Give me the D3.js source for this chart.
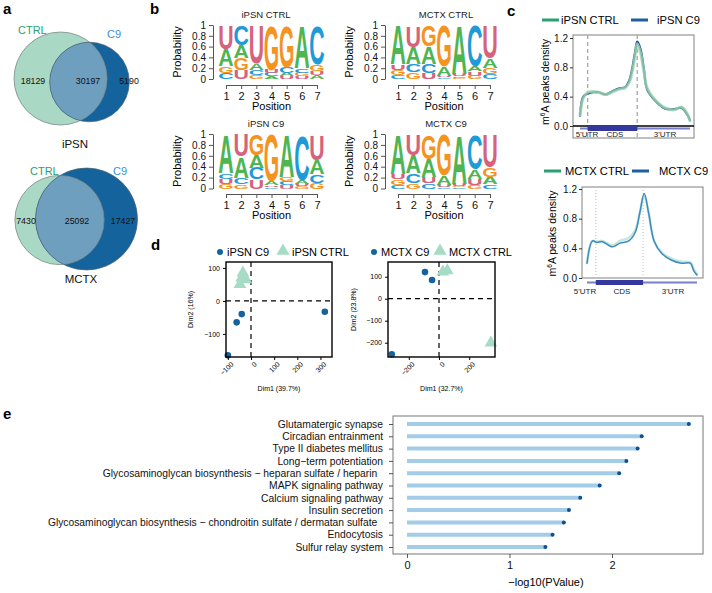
<!DOCTYPE html>
<html>
<head>
<meta charset="utf-8">
<script src="https://cdn.jsdelivr.net/npm/d3@7"></script>
<style>
body { margin: 0; background: #fff; }
svg { font-family: "Liberation Sans", Arial, sans-serif; display: block; }
</style>
</head>
<body>
<svg id="fig" width="712" height="593"></svg>
<script>
// ---- data ----
// venn counts: [CTRL only, shared, C9 only]
const vennIpsn = [18129, 30197, 5190];
const vennMctx = [7430, 25092, 17427];

// sequence logos, probabilities per position in order A, C, G, U
const nts = ["A", "C", "G", "U"];
const logoIpsnCtrl = [
  [0.31, 0.11, 0.13, 0.45],
  [0.24, 0.37, 0.23, 0.16],
  [0.12, 0.09, 0.08, 0.71],
  [0.05, 0.06, 0.83, 0.06],
  [0.07, 0.11, 0.77, 0.05],
  [0.80, 0.08, 0.07, 0.05],
  [0.07, 0.72, 0.13, 0.08]
];
const logoIpsnC9 = [
  [0.72, 0.10, 0.09, 0.09],
  [0.39, 0.12, 0.08, 0.41],
  [0.24, 0.21, 0.38, 0.17],
  [0.07, 0.03, 0.87, 0.03],
  [0.78, 0.08, 0.08, 0.06],
  [0.08, 0.84, 0.04, 0.04],
  [0.27, 0.15, 0.11, 0.47]
];
const logoMctxCtrl = [
  [0.73, 0.08, 0.09, 0.10],
  [0.33, 0.14, 0.13, 0.40],
  [0.33, 0.16, 0.39, 0.12],
  [0.18, 0.03, 0.76, 0.03],
  [0.91, 0.03, 0.02, 0.04],
  [0.10, 0.76, 0.06, 0.08],
  [0.18, 0.09, 0.12, 0.61]
];
const logoMctxC9 = [
  [0.73, 0.07, 0.10, 0.10],
  [0.33, 0.18, 0.10, 0.39],
  [0.33, 0.10, 0.45, 0.12],
  [0.17, 0.03, 0.76, 0.04],
  [0.91, 0.02, 0.03, 0.04],
  [0.18, 0.64, 0.06, 0.12],
  [0.14, 0.08, 0.18, 0.60]
];
const positions = [1, 2, 3, 4, 5, 6, 7];
const probTicks = [0, 0.2, 0.4, 0.6, 0.8, 1];

// metagene m6A density, [position along transcript (0-100), density]
const metaIpsnCtrl = [[0,0.15],[3,0.38],[7,0.46],[12,0.47],[17,0.46],[23,0.43],[29,0.46],[35,0.50],[41,0.52],[45,0.60],[50,0.95],[52,1.12],[55,1.00],[58,0.75],[61,0.52],[68,0.36],[77,0.25],[86,0.22],[92,0.26],[97,0.18],[100,0.07]];
const metaIpsnC9 = [[0,0.14],[3,0.40],[7,0.44],[12,0.46],[17,0.46],[23,0.43],[29,0.47],[35,0.51],[41,0.53],[45,0.63],[50,1.00],[52,1.15],[55,1.05],[58,0.78],[61,0.50],[68,0.35],[77,0.24],[86,0.23],[92,0.25],[97,0.17],[100,0.08]];
const metaMctxCtrl = [[0,0.20],[5,0.50],[9,0.49],[14,0.50],[23,0.44],[30,0.50],[38,0.54],[44,0.65],[48,0.88],[52,1.12],[56,0.88],[61,0.50],[68,0.34],[77,0.26],[86,0.22],[94,0.21],[97,0.12],[100,0.05]];
const metaMctxC9 = [[0,0.20],[5,0.50],[9,0.48],[14,0.49],[23,0.42],[30,0.47],[38,0.50],[44,0.62],[48,0.88],[52,1.14],[56,0.88],[61,0.50],[68,0.33],[77,0.24],[86,0.20],[94,0.20],[97,0.10],[100,0.04]];
const regionsIpsn = [0, 7, 52, 100];
const regionsMctx = [0, 8, 51, 100];
const regionNames = ["5'UTR", "CDS", "3'UTR"];
const densityTicks = [0, 0.4, 0.8, 1.2];

// PCA coordinates [Dim1, Dim2]
const pcaIpsnC9 = [[-100,-165],[-62,-65],[-40,-40],[319,-33]];
const pcaIpsnCtrl = [[-48,50],[-35,85],[-22,65],[-40,70]];
const pcaMctxC9 = [[-313,-253],[-93,121],[-46,85]];
const pcaMctxCtrl = [[25,122],[55,128],[344,-201]];

// KEGG enrichment
const pathways = [
  "Glutamatergic synapse",
  "Circadian entrainment",
  "Type II diabetes mellitus",
  "Long\u2212term potentiation",
  "Glycosaminoglycan biosynthesis \u2212 heparan sulfate / heparin  ",
  "MAPK signaling pathway",
  "Calcium signaling pathway",
  "Insulin secretion",
  "Glycosaminoglycan biosynthesis \u2212 chondroitin sulfate / dermatan sulfate  ",
  "Endocytosis",
  "Sulfur relay system"
];
const pathValues = [2.75, 2.29, 2.25, 2.14, 2.07, 1.88, 1.69, 1.58, 1.53, 1.42, 1.35];
const pathTicks = [0, 1, 2];

// ---- style ----
const ntColors = { A: "#4fb553", C: "#1e9ad8", G: "#f5931f", U: "#d6637b" };
const ctrlGreen = "#2c9f72", c9Blue = "#3a8fd3";

const svg = d3.select("#fig");
svg.append("rect").attr("width", 712).attr("height", 593).attr("fill", "#fff");

function panelLabel(t, x, y) {
  svg.append("text").attr("x", x).attr("y", y)
    .attr("font-size", 15).attr("font-weight", "bold").text(t);
}

// ---- a: venn diagrams ----
function drawVenn(counts, lay) {
  const totCtrl = counts[0] + counts[1];
  const totC9 = counts[1] + counts[2];
  const r = d3.scaleSqrt().domain([0, Math.max(totCtrl, totC9)]).range([0, lay.rMax]);
  const g = svg.append("g");
  const clipId = "clip-" + lay.name;
  g.append("clipPath").attr("id", clipId)
    .append("circle").attr("cx", lay.ctrl[0]).attr("cy", lay.ctrl[1]).attr("r", r(totCtrl));

  g.append("circle").attr("cx", lay.ctrl[0]).attr("cy", lay.ctrl[1]).attr("r", r(totCtrl))
    .attr("fill", "#a9d8c5");
  g.append("circle").attr("cx", lay.c9[0]).attr("cy", lay.c9[1]).attr("r", r(totC9))
    .attr("fill", "#15639d");
  g.append("circle").attr("cx", lay.c9[0]).attr("cy", lay.c9[1]).attr("r", r(totC9))
    .attr("fill", "#6f9fbf").attr("clip-path", `url(#${clipId})`);
  g.append("circle").attr("cx", lay.ctrl[0]).attr("cy", lay.ctrl[1]).attr("r", r(totCtrl))
    .attr("fill", "none").attr("stroke", "#7d8a88").attr("stroke-width", 0.8);
  g.append("circle").attr("cx", lay.c9[0]).attr("cy", lay.c9[1]).attr("r", r(totC9))
    .attr("fill", "none").attr("stroke", "#4f6070").attr("stroke-width", 0.7);

  g.selectAll("text.num").data(counts).join("text")
    .attr("class", "num")
    .attr("x", (d, i) => lay.numX[i]).attr("y", lay.numY)
    .attr("text-anchor", "middle").attr("font-size", 8.8).attr("fill", "#111")
    .text(d => d);

  g.append("text").attr("x", lay.ctrlLab[0]).attr("y", lay.ctrlLab[1])
    .attr("font-size", 11).attr("fill", ctrlGreen).text("CTRL");
  g.append("text").attr("x", lay.c9Lab[0]).attr("y", lay.c9Lab[1])
    .attr("font-size", 11).attr("fill", c9Blue).text("C9");
  g.append("text").attr("x", lay.title[0]).attr("y", lay.title[1])
    .attr("text-anchor", "middle").attr("font-size", 11.5).attr("fill", "#111").text(lay.name);
}

drawVenn(vennIpsn, {
  name: "iPSN", rMax: 46.5, ctrl: [60.5, 78.5], c9: [89.5, 82],
  numX: [33, 88, 129], numY: 84, ctrlLab: [18, 34], c9Lab: [107, 38], title: [75, 148]
});
drawVenn(vennMctx, {
  name: "MCTX", rMax: 51, ctrl: [59.5, 220], c9: [86.5, 219],
  numX: [26, 77, 123], numY: 224, ctrlLab: [30, 175], c9Lab: [113, 175], title: [81, 283]
});

// ---- b: sequence logos ----
function drawLogo(data, title, lay) {
  const x = d3.scaleLinear().domain([1, 7]).range([lay.x1, lay.x7]);
  const y = d3.scaleLinear().domain([0, 1]).range([lay.y0, lay.y1]);
  const g = svg.append("g");
  const colW = (lay.x7 - lay.x1) / 6 * 0.94;

  data.forEach((probs, i) => {
    const stack = nts.map((n, k) => ({ n, p: probs[k] })).sort((a, b) => a.p - b.p);
    let cum = 0;
    stack.forEach(s => {
      const yb = y(cum), yt = y(cum + s.p);
      cum += s.p;
      const t = g.append("text").text(s.n)
        .attr("font-size", 100).attr("font-weight", "bold")
        .attr("fill", ntColors[s.n]);
      const w = t.node().getComputedTextLength();
      const sx = colW / w * 1.08, sy = (yb - yt) / 72;
      t.attr("transform", `translate(${x(positions[i]) - colW / 2 - colW * 0.04},${yb}) scale(${sx},${sy})`);
    });
  });

  const ya = g.append("g").attr("transform", `translate(${lay.ax},0)`)
    .call(d3.axisLeft(y).tickValues(probTicks).tickFormat(d3.format("~g"))
      .tickSize(4).tickSizeOuter(0));
  ya.selectAll("text").attr("font-size", 10).attr("fill", "#111").attr("font-family", null);
  ya.selectAll("line, path").attr("stroke", "#555");

  const xa = g.append("g").attr("transform", `translate(0,${lay.xAxisY})`)
    .call(d3.axisBottom(x).tickValues(positions).tickFormat(d3.format("d")).tickSize(4).tickSizeOuter(0));
  xa.selectAll("text").attr("font-size", 11).attr("fill", "#111").attr("font-family", null);
  xa.selectAll("line, path").attr("stroke", "#555");

  g.append("text").attr("x", (lay.x1 + lay.x7) / 2).attr("y", lay.xAxisY + 25)
    .attr("text-anchor", "middle").attr("font-size", 11).text("Position");
  g.append("text").attr("transform", `translate(${lay.ylabX},${(lay.y0 + lay.y1) / 2}) rotate(-90)`)
    .attr("text-anchor", "middle").attr("font-size", 11).text("Probability");
  g.append("text").attr("x", lay.titleX).attr("y", lay.y1 - 7)
    .attr("text-anchor", "middle").attr("font-size", 9.5).attr("fill", "#222").text(title);
}

const logoTop = { y0: 79, y1: 25, xAxisY: 85 };
const logoBot = { y0: 188.5, y1: 134, xAxisY: 194 };
const logoLeft = { x1: 226, x7: 317, ax: 213, ylabX: 181, titleX: 266 };
const logoRight = { x1: 398, x7: 490, ax: 385, ylabX: 353, titleX: 446 };
drawLogo(logoIpsnCtrl, "iPSN CTRL", Object.assign({}, logoTop, logoLeft));
drawLogo(logoMctxCtrl, "MCTX CTRL", Object.assign({}, logoTop, logoRight));
drawLogo(logoIpsnC9, "iPSN C9", Object.assign({}, logoBot, logoLeft));
drawLogo(logoMctxC9, "MCTX C9", Object.assign({}, logoBot, logoRight));

// ---- c: metagene density ----
function drawMeta(ctrl, c9, regions, names, lay) {
  const x = d3.scaleLinear().domain([0, 100]).range([lay.x0, lay.x1]);
  const y = d3.scaleLinear().domain([0, 1.2]).range([lay.yb, lay.yt]);
  const g = svg.append("g");

  g.append("rect").attr("x", lay.bl).attr("y", lay.bt)
    .attr("width", lay.br - lay.bl).attr("height", lay.bb - lay.bt)
    .attr("fill", "none").attr("stroke", "#808080").attr("stroke-width", 1);

  g.selectAll("line.div").data([regions[1], regions[2]]).join("line")
    .attr("x1", d => x(d)).attr("x2", d => x(d))
    .attr("y1", lay.bt).attr("y2", lay.divBottom)
    .attr("stroke", lay.divColor).attr("stroke-width", 1.2)
    .attr("stroke-dasharray", lay.dash);

  if (lay.zeroLine) {
    g.append("line").attr("x1", lay.bl).attr("x2", lay.br)
      .attr("y1", y(0)).attr("y2", y(0)).attr("stroke", "#000").attr("stroke-width", 1.5);
  }

  const ax = g.append("g").attr("transform", `translate(${lay.bl},0)`)
    .call(d3.axisLeft(y).tickValues(densityTicks).tickFormat(d3.format(".1f")).tickSize(3).tickSizeOuter(0).tickPadding(2));
  ax.select(".domain").remove();
  ax.selectAll("text").attr("font-size", 10).attr("fill", "#111").attr("font-family", null);
  ax.selectAll("line").attr("stroke", "#333");

  // gene model bar
  g.append("line").attr("x1", x(regions[0])).attr("x2", x(regions[3]))
    .attr("y1", lay.barY).attr("y2", lay.barY)
    .attr("stroke", "#7b7fcf").attr("stroke-width", 2);
  g.append("rect").attr("x", x(regions[1])).attr("y", lay.barY - 2.5)
    .attr("width", x(regions[2]) - x(regions[1])).attr("height", 5)
    .attr("fill", "#34379c");
  g.selectAll("text.reg").data(regionNames).join("text")
    .attr("class", "reg")
    .attr("x", (d, i) => lay.regLabX[i]).attr("y", lay.regLabY)
    .attr("text-anchor", "middle").attr("font-size", 8).attr("fill", "#222")
    .text(d => d);

  const line = d3.line().x(d => x(d[0])).y(d => y(d[1])).curve(d3.curveCatmullRom.alpha(0.5));
  lay.order.forEach(k => {
    const s = k === "ctrl" ? lay.ctrlStyle : lay.c9Style;
    g.append("path").datum(k === "ctrl" ? ctrl : c9)
      .attr("d", line).attr("fill", "none")
      .attr("stroke", s.color).attr("stroke-width", s.width)
      .attr("stroke-opacity", s.opacity).attr("stroke-linejoin", "round").attr("stroke-linecap", "round");
  });

  // legend
  const lx = lay.legX;
  g.append("line").attr("x1", lx[0]).attr("x2", lx[0] + 17).attr("y1", lay.legY).attr("y2", lay.legY)
    .attr("stroke", ctrlGreen).attr("stroke-width", 3);
  g.append("text").attr("x", lx[1]).attr("y", lay.legY + 4).attr("font-size", 11.2).text(names[0]);
  g.append("line").attr("x1", lx[2]).attr("x2", lx[2] + 17).attr("y1", lay.legY).attr("y2", lay.legY)
    .attr("stroke", "#1e5fa3").attr("stroke-width", 3);
  g.append("text").attr("x", lx[3]).attr("y", lay.legY + 4).attr("font-size", 11.2).text(names[1]);

  const yl = g.append("text").attr("transform", `translate(${lay.ylabX},${(lay.yb + lay.yt) / 2}) rotate(-90)`)
    .attr("text-anchor", "middle").attr("font-size", 10.5);
  yl.append("tspan").text("m");
  yl.append("tspan").attr("font-size", 6.5).attr("dy", -4).text("6");
  yl.append("tspan").attr("dy", 4).text("A peaks density");
}

drawMeta(metaIpsnCtrl, metaIpsnC9, regionsIpsn, ["iPSN CTRL", "iPSN C9"], {
  x0: 580, x1: 690, yb: 126, yt: 38, bl: 573, br: 694, bt: 35, bb: 138,
  zeroLine: true, divBottom: 138, divColor: "#a0a0a0", dash: "4,3",
  barY: 128.5, regLabX: [587, 615, 665], regLabY: 137,
  order: ["c9", "ctrl"],
  c9Style: { color: "#1d4c98", width: 2.2, opacity: 1 },
  ctrlStyle: { color: "#9fd8ae", width: 3, opacity: 0.8 },
  legX: [542, 561, 631, 657], legY: 20, ylabX: 549
});
drawMeta(metaMctxCtrl, metaMctxC9, regionsMctx, ["MCTX CTRL", "MCTX C9"], {
  x0: 587, x1: 697, yb: 278, yt: 189, bl: 582, br: 703, bt: 187, bb: 278,
  zeroLine: false, divBottom: 278, divColor: "#c8c8c8", dash: "1,2",
  barY: 282.5, regLabX: [585, 622, 673], regLabY: 294,
  order: ["ctrl", "c9"],
  c9Style: { color: "#3b8bc0", width: 1.5, opacity: 1 },
  ctrlStyle: { color: "#c4e8dd", width: 2.6, opacity: 1 },
  legX: [544, 565, 632, 659], legY: 171, ylabX: 556
});

// ---- d: PCA ----
const triangle = d3.symbol().type(d3.symbolTriangle);
function drawPca(c9, ctrl, names, lay) {
  const x = d3.scaleLinear().domain(lay.xd).range([lay.l, lay.r]);
  const y = d3.scaleLinear().domain(lay.yd).range([lay.b, lay.t]);
  const g = svg.append("g");

  g.append("line").attr("x1", x(0)).attr("x2", x(0)).attr("y1", lay.t).attr("y2", lay.b)
    .attr("stroke", "#000").attr("stroke-width", 1.2).attr("stroke-dasharray", "5,4");
  g.append("line").attr("x1", lay.l).attr("x2", lay.r).attr("y1", y(0)).attr("y2", y(0))
    .attr("stroke", "#000").attr("stroke-width", 1.2).attr("stroke-dasharray", "5,4");

  g.selectAll("path.tri").data(ctrl).join("path").attr("class", "tri")
    .attr("d", triangle.size(70)())
    .attr("transform", d => `translate(${x(d[0])},${y(d[1])})`)
    .attr("fill", "#a6dbc6");
  g.selectAll("circle.pt").data(c9).join("circle").attr("class", "pt")
    .attr("cx", d => x(d[0])).attr("cy", d => y(d[1])).attr("r", 3.3)
    .attr("fill", "#15639d");

  g.append("rect").attr("x", lay.l).attr("y", lay.t)
    .attr("width", lay.r - lay.l).attr("height", lay.b - lay.t)
    .attr("fill", "none").attr("stroke", "#000").attr("stroke-width", 1.4);

  const fmt = d => String(d).replace("-", "\u2212");
  const xa = g.append("g").attr("transform", `translate(0,${lay.b})`)
    .call(d3.axisBottom(x).tickValues(lay.xt).tickFormat(fmt).tickSize(3).tickSizeOuter(0));
  xa.select(".domain").remove();
  xa.selectAll("text").attr("font-size", 7).attr("font-family", null)
    .attr("text-anchor", "end").attr("dx", "-0.2em").attr("dy", "0.5em")
    .attr("transform", "rotate(-45)");
  const ya = g.append("g").attr("transform", `translate(${lay.l},0)`)
    .call(d3.axisLeft(y).tickValues(lay.yt).tickFormat(fmt).tickSize(3).tickSizeOuter(0));
  ya.select(".domain").remove();
  ya.selectAll("text").attr("font-size", 7).attr("font-family", null);

  g.append("text").attr("x", (lay.l + lay.r) / 2).attr("y", 391)
    .attr("text-anchor", "middle").attr("font-size", 7).text(lay.xlab);
  g.append("text").attr("transform", `translate(${lay.ylabX},${(lay.t + lay.b) / 2}) rotate(-90)`)
    .attr("text-anchor", "middle").attr("font-size", 7).text(lay.ylab);

  // legend
  g.append("circle").attr("cx", lay.leg[0]).attr("cy", 252).attr("r", 3).attr("fill", "#15639d");
  g.append("text").attr("x", lay.leg[0] + 7).attr("y", 256).attr("font-size", 11).text(names[0]);
  g.append("path").attr("d", triangle.size(75)())
    .attr("transform", `translate(${lay.leg[1]},251)`).attr("fill", "#a6dbc6");
  g.append("text").attr("x", lay.leg[1] + 9).attr("y", 256).attr("font-size", 11).text(names[1]);
}

drawPca(pcaIpsnC9, pcaIpsnCtrl, ["iPSN C9", "iPSN CTRL"], {
  xd: [-108, 350], yd: [-170, 118], l: 226, r: 332, t: 262, b: 357,
  xt: [-100, 0, 100, 200, 300], yt: [-100, 0, 100],
  xlab: "Dim1 (39.7%)", ylab: "Dim2 (16%)", ylabX: 193, leg: [220, 283]
});
drawPca(pcaMctxC9, pcaMctxCtrl, ["MCTX C9", "MCTX CTRL"], {
  xd: [-338, 371], yd: [-265, 167], l: 388, r: 495, t: 262, b: 357,
  xt: [-200, 0, 200], yt: [-200, -100, 0, 100],
  xlab: "Dim1 (32.7%)", ylab: "Dim2 (23.8%)", ylabX: 356, leg: [374, 440]
});

// ---- e: KEGG lollipop ----
(function () {
  const x = d3.scaleLinear().domain([0, 2]).range([407, 612]);
  const y = d3.scalePoint().domain(pathways).range([424, 547]);
  const g = svg.append("g");
  const box = { l: 393, r: 703, t: 416, b: 554 };

  g.append("rect").attr("x", box.l).attr("y", box.t)
    .attr("width", box.r - box.l).attr("height", box.b - box.t)
    .attr("fill", "none").attr("stroke", "#777").attr("stroke-width", 1);

  const rows = pathways.map((p, i) => ({ p, v: pathValues[i] }));
  g.selectAll("line.bar").data(rows).join("line").attr("class", "bar")
    .attr("x1", x(0)).attr("x2", d => x(d.v))
    .attr("y1", d => y(d.p)).attr("y2", d => y(d.p))
    .attr("stroke", "#a3cce9").attr("stroke-width", 4);
  g.selectAll("circle.dot").data(rows).join("circle").attr("class", "dot")
    .attr("cx", d => x(d.v)).attr("cy", d => y(d.p)).attr("r", 2)
    .attr("fill", "#0f4f8e");

  const ya = g.append("g").attr("transform", `translate(${box.l},0)`)
    .call(d3.axisLeft(y).tickSize(4).tickSizeOuter(0).tickPadding(6));
  ya.select(".domain").remove();
  ya.selectAll("line").attr("stroke", "#555");
  ya.selectAll("text").attr("font-size", 10.3).attr("fill", "#111").attr("font-family", null)
    .style("white-space", "pre");

  const xa = g.append("g").attr("transform", `translate(0,${box.b})`)
    .call(d3.axisBottom(x).tickValues(pathTicks).tickFormat(d3.format("d")).tickSize(4).tickSizeOuter(0));
  xa.select(".domain").remove();
  xa.selectAll("line").attr("stroke", "#555");
  xa.selectAll("text").attr("font-size", 11).attr("fill", "#111").attr("font-family", null);

  g.append("text").attr("x", 546).attr("y", 586).attr("text-anchor", "middle")
    .attr("font-size", 11).text("\u2212log10(PValue)");
})();

panelLabel("a", 3, 14);
panelLabel("b", 150, 14);
panelLabel("c", 507, 16);
panelLabel("d", 151, 250);
panelLabel("e", 3, 419);
</script>
</body>
</html>
